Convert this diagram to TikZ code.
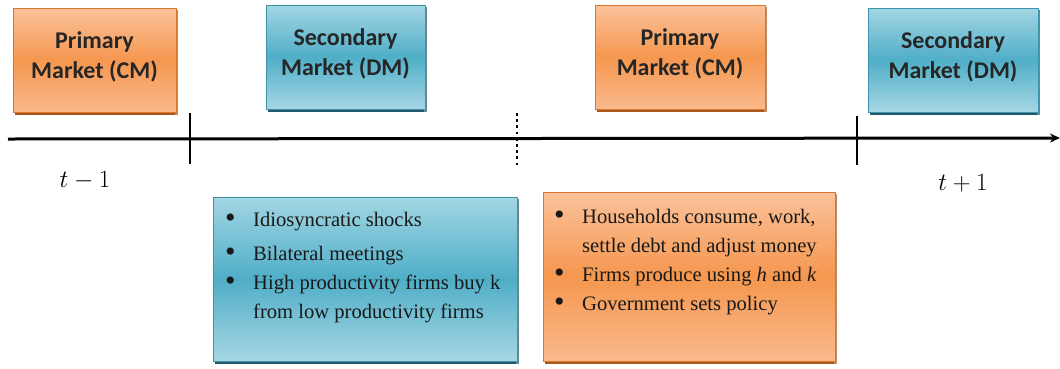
\documentclass[tikz,border=0pt]{standalone}
\usepackage[no-math]{fontspec}
\setmainfont{Liberation Serif}
\newfontfamily\titlefont{Carlito}
\usetikzlibrary{arrows.meta}
\definecolor{orTop}{HTML}{FBC29A}
\definecolor{orMid}{HTML}{F5974F}
\definecolor{orBot}{HTML}{FAB98C}
\definecolor{orEdge}{HTML}{D9772F}
\definecolor{orDark}{HTML}{A8581F}
\definecolor{blTop}{HTML}{A3D6E4}
\definecolor{blMid}{HTML}{4FAEC7}
\definecolor{blBot}{HTML}{A6D7E4}
\definecolor{blEdge}{HTML}{3C93AB}
\definecolor{blDark}{HTML}{22596A}
\tikzset{
  x=1pt, y=-1pt,
  orbox/.style={rectangle, draw=orEdge, line width=0.8pt, top color=orTop, bottom color=orBot, middle color=orMid},
  blbox/.style={rectangle, draw=blEdge, line width=0.8pt, top color=blTop, bottom color=blBot, middle color=blMid},
  ttl/.style={font=\titlefont\bfseries\fontsize{24}{30}\selectfont, align=center, text=black!85},
  lst/.style={font=\fontsize{20.6}{29}\selectfont, align=left, anchor=north west, inner sep=0pt, text=black!90},
  tl/.style={line width=3pt},
}
\newcommand{\bx}[6]{% name, style, x1,y1,x2,y2
  \fill[#2Dark] (#3+2,#6-1) rectangle (#5+2,#6+3);
  \fill[#2Dark!70] (#5-1,#4+2) rectangle (#5+2,#6+3);
  \path[#2box] (#3,#4) rectangle (#5,#6);
  \coordinate (#1) at ({(#3+#5)/2},{(#4+#6)/2});
}
\newcommand{\bul}{\makebox[29pt][l]{\hspace*{1pt}\raisebox{-1pt}{\fontsize{30}{30}\selectfont\textbullet}}}
\begin{document}
\begin{tikzpicture}
\useasboundingbox (0,0) rectangle (1060,368);
% top boxes
\bx{b1}{or}{13}{8}{176}{112}
\bx{b2}{bl}{266}{5}{425}{109}
\bx{b3}{or}{595}{5}{765}{109}
\bx{b4}{bl}{868}{8}{1038}{112}
\node[ttl] (t1) at ([yshift=3pt]b1) {Primary\\Market (CM)};
\node[ttl] (t2) at ([yshift=3pt]b2) {Secondary\\Market (DM)};
\node[ttl] (t3) at ([yshift=3pt]b3) {Primary\\Market (CM)};
\node[ttl] (t4) at ([yshift=3pt]b4) {Secondary\\Market (DM)};
% timeline
\coordinate (L) at (8,139);
\coordinate (R) at (1060,138);
\draw[tl, -{Stealth[length=10pt,width=9pt]}] (L) -- (R);
\coordinate (k1a) at (190,113); \coordinate (k1b) at (190,164);
\coordinate (k2a) at (857,116); \coordinate (k2b) at (857,165);
\coordinate (k3a) at (517,113); \coordinate (k3b) at (517,167);
\draw[line width=2.4pt] (k1a) -- (k1b);
\draw[line width=2.4pt] (k2a) -- (k2b);
\draw[line width=2.8pt, dash pattern=on 2.8pt off 3.4pt] (k3a) -- (k3b);
\node[font=\fontsize{31}{34}\selectfont] (tm1) at (85,181) {$t-1$};
\node[font=\fontsize{31}{34}\selectfont] (tp1) at (963,183) {$t+1$};
% lower boxes
\bx{b5}{bl}{213}{197}{517}{361}
\bx{b6}{or}{543}{192}{835}{361}
\node[lst] (l5) at (224,212) {%
\bul Idiosyncratic shocks\\[5pt]
\bul Bilateral meetings\\
\bul High productivity firms buy k\\
\hspace*{29pt}from low productivity firms};
\node[lst] (l6) at (553,209) {%
\bul Households consume, work,\\
\hspace*{29pt}settle debt and adjust money\\
\bul Firms produce using \textit{h} and \textit{k}\\
\bul Government sets policy};
\end{tikzpicture}
\end{document}
